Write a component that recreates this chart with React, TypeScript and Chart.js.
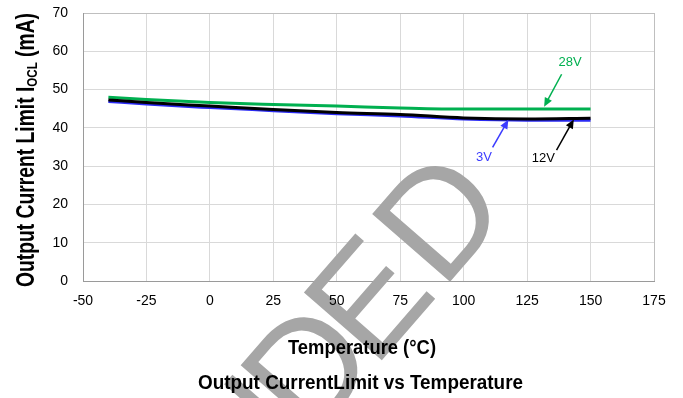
import React, { useEffect, useRef } from "react";
import { Chart, registerables } from "chart.js";

Chart.register(...registerables);

// ---- data ----
const temperatures = [-40, -25, 0, 25, 50, 75, 100, 125, 150];
const ocl28V = [48.0, 47.4, 46.6, 46.1, 45.7, 45.2, 44.9, 44.9, 44.9];
const ocl12V = [47.3, 46.6, 45.7, 44.8, 44.0, 43.5, 42.6, 42.3, 42.5];
const ocl3V = [46.9, 46.2, 45.3, 44.5, 43.7, 43.1, 42.3, 42.0, 42.0];

const xTickValues = [-50, -25, 0, 25, 50, 75, 100, 125, 150, 175];
const yTickValues = [0, 10, 20, 30, 40, 50, 60, 70];

// callout labels (data coordinates)
const calloutNames = ["28V", "3V", "12V"];
const calloutColors = ["#00B050", "#3B3BFF", "#000000"];
const calloutTextX = [141.9, 108.0, 131.4];
const calloutTextY = [57.1, 32.4, 32.0];
const calloutFromX = [138.6, 111.4, 136.6];
const calloutFromY = [54.0, 34.9, 34.2];
const calloutToX = [131.7, 117.6, 143.4];
const calloutToY = [45.5, 42.1, 42.2];

const xTitle = "Temperature (°C)";
const chartTitle = "Output CurrentLimit vs Temperature";
const yTitleMain = "Output Current Limit I";
const yTitleSub = "OCL";
const yTitleEnd = " (mA)";
const watermarkText = "RECOMMENDED";

const FONT = '"Liberation Sans", Arial, sans-serif';

function fitText(ctx: CanvasRenderingContext2D, text: string, x: number, y: number, font: string, targetW: number) {
  ctx.save();
  ctx.font = font;
  const w = ctx.measureText(text).width;
  const s = targetW / w;
  ctx.translate(x, y);
  ctx.scale(s, 1);
  ctx.textAlign = "center";
  ctx.textBaseline = "alphabetic";
  ctx.fillStyle = "#000";
  ctx.fillText(text, 0, 0);
  ctx.restore();
}

const watermarkPlugin = {
  id: "watermark",
  beforeDatasetsDraw(chart: any) {
    const ctx: CanvasRenderingContext2D = chart.ctx;
    ctx.save();
    ctx.fillStyle = "#a6a6a6";
    ctx.font = `150px ${FONT}`;
    ctx.textAlign = "left";
    ctx.textBaseline = "alphabetic";
    const phi = (49 * Math.PI) / 180;
    const ux = Math.cos(phi);
    const uy = -Math.sin(phi);
    const letters = watermarkText.split("");
    let ox = 442;
    let oy = 291;
    for (let i = letters.length - 1; i >= 0; i--) {
      if (i < letters.length - 1) {
        const gap = i === letters.length - 2 ? 4 : -12;
        const adv = ctx.measureText(letters[i]).width + gap;
        ox -= adv * ux;
        oy -= adv * uy;
      }
      ctx.save();
      ctx.translate(ox, oy);
      ctx.rotate(-phi);
      ctx.fillText(letters[i], 0, 0);
      ctx.restore();
    }
    ctx.restore();
  },
};

const textPlugin = {
  id: "texts",
  afterDraw(chart: any) {
    const ctx: CanvasRenderingContext2D = chart.ctx;
    const xs = chart.scales.x;
    const ys = chart.scales.y;

    // callouts
    for (let i = 0; i < calloutNames.length; i++) {
      const col = calloutColors[i];
      const fx = xs.getPixelForValue(calloutFromX[i]);
      const fy = ys.getPixelForValue(calloutFromY[i]);
      const tx = xs.getPixelForValue(calloutToX[i]);
      const ty = ys.getPixelForValue(calloutToY[i]);
      const ang = Math.atan2(ty - fy, tx - fx);
      const headL = 9;
      const headW = 4;
      ctx.save();
      ctx.strokeStyle = col;
      ctx.fillStyle = col;
      ctx.lineWidth = 1.5;
      ctx.beginPath();
      ctx.moveTo(fx, fy);
      ctx.lineTo(tx - Math.cos(ang) * headL * 0.8, ty - Math.sin(ang) * headL * 0.8);
      ctx.stroke();
      ctx.beginPath();
      ctx.moveTo(tx, ty);
      ctx.lineTo(tx - Math.cos(ang) * headL - Math.sin(ang) * headW, ty - Math.sin(ang) * headL + Math.cos(ang) * headW);
      ctx.lineTo(tx - Math.cos(ang) * headL + Math.sin(ang) * headW, ty - Math.sin(ang) * headL - Math.cos(ang) * headW);
      ctx.closePath();
      ctx.fill();
      ctx.font = `13px ${FONT}`;
      ctx.textAlign = "center";
      ctx.textBaseline = "middle";
      ctx.fillText(calloutNames[i], xs.getPixelForValue(calloutTextX[i]), ys.getPixelForValue(calloutTextY[i]));
      ctx.restore();
    }

    // x axis title and chart title
    fitText(ctx, xTitle, 362, 354, `bold 20px ${FONT}`, 148);
    fitText(ctx, chartTitle, 360.5, 389, `bold 20px ${FONT}`, 325);

    // y axis title with subscript
    ctx.save();
    const mainFont = `bold 25px ${FONT}`;
    const subFont = `bold 15px ${FONT}`;
    ctx.font = mainFont;
    const w1 = ctx.measureText(yTitleMain).width;
    const w3 = ctx.measureText(yTitleEnd).width;
    ctx.font = subFont;
    const w2 = ctx.measureText(yTitleSub).width;
    const total = w1 + w2 + w3;
    const s = 274 / total;
    ctx.translate(34, 150);
    ctx.rotate(-Math.PI / 2);
    ctx.scale(s, 1);
    ctx.fillStyle = "#000";
    ctx.textAlign = "left";
    ctx.textBaseline = "alphabetic";
    let x = -total / 2;
    ctx.font = mainFont;
    ctx.fillText(yTitleMain, x, 0);
    x += w1;
    ctx.font = subFont;
    ctx.fillText(yTitleSub, x, 3);
    x += w2;
    ctx.font = mainFont;
    ctx.fillText(yTitleEnd, x, 0);
    ctx.restore();
  },
};

export default function App() {
  const ref = useRef<HTMLCanvasElement | null>(null);

  useEffect(() => {
    const canvas = ref.current;
    if (!canvas) return;
    const pts = (vals: number[]) => temperatures.map((t, i) => ({ x: t, y: vals[i] }));
    const chart = new Chart(canvas, {
      type: "line",
      data: {
        datasets: [
          {
            label: "12V",
            data: pts(ocl12V),
            borderColor: "#000000",
            borderWidth: 3,
            pointRadius: 0,
            cubicInterpolationMode: "monotone",
            order: 0,
          },
          {
            label: "3V",
            data: pts(ocl3V),
            borderColor: "#2B2BF5",
            borderWidth: 3,
            pointRadius: 0,
            cubicInterpolationMode: "monotone",
            order: 1,
          },
          {
            label: "28V",
            data: pts(ocl28V),
            borderColor: "#00B050",
            borderWidth: 3,
            pointRadius: 0,
            cubicInterpolationMode: "monotone",
            order: 2,
          },
        ],
      },
      options: {
        responsive: false,
        maintainAspectRatio: false,
        animation: false,
        layout: { padding: { left: 0, right: 29, top: 13, bottom: 0 } },
        plugins: {
          legend: { display: false },
          tooltip: { enabled: false },
          title: { display: false },
        },
        scales: {
          x: {
            type: "linear",
            min: xTickValues[0],
            max: xTickValues[xTickValues.length - 1],
            afterBuildTicks: (scale: any) => {
              scale.ticks = xTickValues.map((v) => ({ value: v }));
            },
            afterFit: (scale: any) => {
              scale.height = 117;
              scale.paddingLeft = 0;
              scale.paddingRight = 0;
            },
            ticks: {
              z: 1,
              padding: 12,
              color: "#000",
              font: { family: FONT, size: 14 },
              maxRotation: 0,
              autoSkip: false,
            },
            grid: {
              drawTicks: false,
              lineWidth: 1,
              color: (c: any) => (c.tick && c.tick.value === 175 ? "#bfbfbf" : "#d9d9d9"),
            },
            border: { color: "#9a9a9a", width: 1 },
          },
          y: {
            type: "linear",
            min: yTickValues[0],
            max: yTickValues[yTickValues.length - 1],
            afterBuildTicks: (scale: any) => {
              scale.ticks = yTickValues.map((v) => ({ value: v }));
            },
            afterFit: (scale: any) => {
              scale.width = 83;
              scale.paddingTop = 0;
              scale.paddingBottom = 0;
            },
            ticks: {
              z: 1,
              padding: 15,
              color: "#000",
              font: { family: FONT, size: 14 },
              autoSkip: false,
            },
            grid: {
              drawTicks: false,
              lineWidth: 1,
              color: (c: any) => (c.tick && c.tick.value === 70 ? "#bfbfbf" : "#d9d9d9"),
            },
            border: { color: "#9a9a9a", width: 1 },
          },
        },
      },
      plugins: [watermarkPlugin, textPlugin],
    } as any);
    return () => chart.destroy();
  }, []);

  return (
    <div style={{ position: "absolute", left: 0, top: 0, width: 683, height: 398, background: "#fff" }}>
      <canvas ref={ref} width={683} height={398} style={{ display: "block", width: 683, height: 398 }} />
    </div>
  );
}
